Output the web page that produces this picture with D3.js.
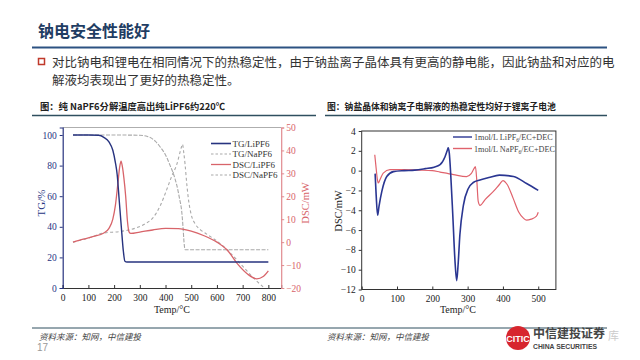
<!DOCTYPE html>
<html><head><meta charset="utf-8">
<script src="https://cdn.jsdelivr.net/npm/d3@7/dist/d3.min.js"></script>
<style>html,body{margin:0;padding:0;background:#fff;}svg{display:block;}</style>
</head><body>
<svg id="c" width="640" height="360"></svg>
<script>
// ---------- DATA ----------
// Left chart: TG / DSC vs temperature
const tgLiTemp = [40,100,140,160,180,195,205,212,220,228,236,242,250,400,800];
const tgLiVal  = [100,100,99.8,98.5,95.5,90,82,74,57,40,24,17.5,17,17,17];
const tgNaTemp = [40,200,300,330,360,380,400,418,432,444,455,463,468,472,476,500,800];
const tgNaVal  = [100,100,99.8,99,96,92,87,80,74,67,58,50,40,30,25,25,25];
const dscLiTemp = [40,80,120,160,180,195,205,215,222,227,232,238,245,252,258,265,300,350,400,450,500,550,600,640,680,720,755,780,800];
const dscLiVal  = [0,1.3,2.5,4,6,10,16,26,33,35.3,33,28,20,9,4.5,3.8,4.4,5.3,6,5.9,4.8,2.8,0,-3.4,-9.5,-14,-16,-15,-12.5];
const dscNaTemp = [40,100,160,220,280,320,350,380,405,425,444,456,462,466,471,476,483,490,500,515,535,560,600,650,700,750,785];
const dscNaVal  = [0,1.8,4,4.6,6,8,10.5,16,23,29,34,39,41.5,42.7,39,34,25,18,12,8,5.5,3.5,0.5,-4.5,-10.5,-16.5,-20];
const leftLegend = ["TG/LiPF6","TG/NaPF6","DSC/LiPF6","DSC/NaPF6"];
const leftXTicks = [0,100,200,300,400,500,600,700,800];
const leftYTicks = [0,20,40,60,80,100];
const rightYTicksL = [-20,-10,0,10,20,30,40,50];

// Right chart: DSC of electrolytes
const liTemp = [38,41,45,49,57,71,90,120,150,180,205,222,236,242,245,248,252,258,264,269,273,278,288,302,316,335,360,390,430,467,500];
const liVal  = [-0.3,-2.5,-4.5,-3.6,-2.1,-0.6,-0.1,0,0.05,0.2,0.35,0.6,1.4,2.0,2.3,1.8,-0.3,-4.5,-9,-11.1,-9.5,-6.5,-3.5,-1.8,-1.2,-0.95,-0.7,-0.45,-0.6,-1.3,-2.0];
const naTemp = [37,41,44,47,52,61,80,120,160,200,222,260,297,310,318,322,326,330,335,350,373,390,400,412,429,445,458,467,480,495,500];
const naVal  = [1.6,0.2,-0.8,-1.25,-0.9,-0.25,0.1,0.1,0.05,0,-0.15,-0.4,-0.6,-0.3,0.2,0.4,-1,-3.1,-3.5,-2.9,-2.1,-1.4,-1.0,-1.4,-2.8,-4.2,-4.8,-5.0,-4.9,-4.6,-4.2];
const rXTicks = [0,100,200,300,400,500];
const rYTicks = [4,2,0,-2,-4,-6,-8,-10,-12];

// ---------- DRAW ----------
const svg = d3.select("#c");
const CJK = "'Noto Sans CJK SC','Noto Sans',sans-serif";
const SERIF = "'Liberation Serif','DejaVu Serif',serif";
const zip = (a,b)=>a.map((t,i)=>[t,b[i]]);

// Slide header
svg.append("text").attr("x",38).attr("y",37).attr("font-family",CJK).attr("font-weight","bold")
  .attr("font-size",16).attr("fill","#1f3d63").text("钠电安全性能好");
svg.append("line").attr("x1",32).attr("x2",607).attr("y1",47.5).attr("y2",47.5)
  .attr("stroke","#2c5282").attr("stroke-width",2);
svg.append("rect").attr("x",38.5).attr("y",58.5).attr("width",6).attr("height",6)
  .attr("fill","none").attr("stroke","#c0392b").attr("stroke-width",1.5);
svg.append("text").attr("x",52).attr("y",67).attr("font-family",CJK).attr("font-size",12.5).attr("fill","#333")
  .text("对比钠电和锂电在相同情况下的热稳定性，由于钠盐离子晶体具有更高的静电能，因此钠盐和对应的电");
svg.append("text").attr("x",52).attr("y",85).attr("font-family",CJK).attr("font-size",12.5).attr("fill","#333")
  .text("解液均表现出了更好的热稳定性。");

// chart titles
svg.append("text").attr("x",40).attr("y",110).attr("font-family",CJK).attr("font-weight","bold")
  .attr("font-size",9.3).attr("fill","#222").text("图：纯 NaPF6分解温度高出纯LiPF6约220℃");
svg.append("line").attr("x1",32).attr("x2",316).attr("y1",115.5).attr("y2",115.5).attr("stroke","#2f4f5f").attr("stroke-width",1.3);
svg.append("text").attr("x",327).attr("y",110).attr("font-family",CJK).attr("font-weight","bold")
  .attr("font-size",8.8).attr("fill","#222").text("图：钠盐晶体和钠离子电解液的热稳定性均好于锂离子电池");
svg.append("line").attr("x1",325).attr("x2",607).attr("y1",115.5).attr("y2",115.5).attr("stroke","#2f4f5f").attr("stroke-width",1.3);

// footer
svg.append("line").attr("x1",32).attr("x2",607).attr("y1",328).attr("y2",328).attr("stroke","#2f4f5f").attr("stroke-width",1);
svg.append("text").attr("x",39).attr("y",340).attr("font-family",CJK).attr("font-size",8.5).attr("font-style","italic")
  .attr("fill","#444").text("资料来源：知网，中信建投");
svg.append("text").attr("x",327).attr("y",340).attr("font-family",CJK).attr("font-size",8.5).attr("font-style","italic")
  .attr("fill","#444").text("资料来源：知网，中信建投");
svg.append("text").attr("x",37).attr("y",351).attr("font-family","'Liberation Sans',sans-serif").attr("font-size",10)
  .attr("fill","#999").text("17");
// logo
svg.append("circle").attr("cx",518).attr("cy",338).attr("r",12).attr("fill","#d7262e");
svg.append("text").attr("x",518).attr("y",342).attr("text-anchor","middle").attr("font-family","'Liberation Sans',sans-serif")
  .attr("font-weight","bold").attr("font-size",9).attr("fill","#fff").text("CITIC");
svg.append("text").attr("x",533).attr("y",338).attr("font-family",CJK).attr("font-weight","bold").attr("font-size",12)
  .attr("fill","#444").text("中信建投证券");
svg.append("text").attr("x",533).attr("y",349).attr("font-family","'Liberation Sans',sans-serif").attr("font-weight","bold")
  .attr("font-size",6.8).attr("fill","#444").text("CHINA SECURITIES");
svg.append("text").attr("x",608).attr("y",340).attr("font-family",CJK).attr("font-size",11).attr("fill","#ccc").text("库");

// ---------- LEFT CHART ----------
const navy = "#27337f", red = "#d8646a", redAxis = "#e08a8f", gray = "#a9a9a9";
const x1 = d3.scaleLinear().domain([0,850]).range([62.7,281.2]);
const yL = d3.scaleLinear().domain([0,104.9]).range([288,127.5]);
const yR = d3.scaleLinear().domain([-20,50]).range([288,127.5]);
const g1 = svg.append("g");

g1.append("line").attr("x1",62.7).attr("x2",281.2).attr("y1",127.5).attr("y2",127.5).attr("stroke","#999").attr("stroke-width",0.8);

const lineL = d3.line().x(d=>x1(d[0])).y(d=>yL(d[1])).curve(d3.curveMonotoneX);
const lineR = d3.line().x(d=>x1(d[0])).y(d=>yR(d[1])).curve(d3.curveMonotoneX);

g1.append("path").attr("d",lineL(zip(tgNaTemp,tgNaVal))).attr("fill","none").attr("stroke",gray).attr("stroke-width",1.1).attr("stroke-dasharray","4,1.5");
g1.append("path").attr("d",lineR(zip(dscNaTemp,dscNaVal))).attr("fill","none").attr("stroke",gray).attr("stroke-width",1.1).attr("stroke-dasharray","3,2.5");
g1.append("path").attr("d",lineR(zip(dscLiTemp,dscLiVal))).attr("fill","none").attr("stroke",red).attr("stroke-width",1.3);
g1.append("path").attr("d",lineL(zip(tgLiTemp,tgLiVal))).attr("fill","none").attr("stroke",navy).attr("stroke-width",1.4);

const axB = g1.append("g").attr("transform","translate(0,288)")
  .call(d3.axisBottom(x1).tickValues(leftXTicks).tickSize(-3).tickPadding(6));
axB.select(".domain").attr("stroke","#333");
axB.selectAll("line").attr("stroke","#333");
axB.selectAll("text").attr("font-family",SERIF).attr("font-size",9.5).attr("fill","#222");

const axL = g1.append("g").attr("transform","translate(62.7,0)")
  .call(d3.axisLeft(yL).tickValues(leftYTicks).tickSize(3).tickPadding(3));
axL.select(".domain").attr("stroke",navy).attr("stroke-width",1.2);
axL.selectAll("line").attr("stroke",navy);
axL.selectAll("text").attr("font-family",SERIF).attr("font-size",9.5).attr("fill",navy);

const axR = g1.append("g").attr("transform","translate(281.2,0)")
  .call(d3.axisRight(yR).tickValues(rightYTicksL).tickSize(3).tickPadding(2));
axR.select(".domain").attr("stroke",redAxis).attr("stroke-width",1.2);
axR.selectAll("line").attr("stroke",redAxis);
axR.selectAll("text").attr("font-family",SERIF).attr("font-size",9.5).attr("fill",red);

g1.append("text").attr("transform","translate(45,203) rotate(-90)").attr("text-anchor","middle")
  .attr("font-family",SERIF).attr("font-size",11).attr("fill",navy).text("TG/%");
g1.append("text").attr("transform","translate(309,203) rotate(-90)").attr("text-anchor","middle")
  .attr("font-family",SERIF).attr("font-size",10.5).attr("fill",red).text("DSC/mW");
g1.append("text").attr("x",172).attr("y",313).attr("text-anchor","middle")
  .attr("font-family",SERIF).attr("font-size",10).attr("fill","#222").text("Temp/°C");

const legStyles = [
  {c:navy,d:null,w:1.6},{c:gray,d:"2.5,2",w:1.1},{c:red,d:null,w:1.3},{c:gray,d:"2.5,2",w:1.1}];
leftLegend.forEach((t,i)=>{
  const y = 143.5 + i*10.5;
  g1.append("line").attr("x1",211).attr("x2",231).attr("y1",y).attr("y2",y)
    .attr("stroke",legStyles[i].c).attr("stroke-width",legStyles[i].w).attr("stroke-dasharray",legStyles[i].d);
  g1.append("text").attr("x",232.5).attr("y",y+3).attr("font-family",SERIF).attr("font-size",9)
    .attr("fill","#333").text(t);
});

// ---------- RIGHT CHART ----------
const blue2 = "#2a3692", red2 = "#e0626c";
const x2 = d3.scaleLinear().domain([0,550]).range([361.7,555.9]);
const y2 = d3.scaleLinear().domain([-12,4]).range([289.5,131]);
const g2 = svg.append("g");
g2.append("rect").attr("x",361.7).attr("y",131).attr("width",555.9-361.7).attr("height",289.5-131)
  .attr("fill","none").attr("stroke","#333").attr("stroke-width",1);
const line2 = d3.line().x(d=>x2(d[0])).y(d=>y2(d[1])).curve(d3.curveMonotoneX);
g2.append("path").attr("d",line2(zip(naTemp,naVal))).attr("fill","none").attr("stroke",red2).attr("stroke-width",1.2);
g2.append("path").attr("d",line2(zip(liTemp,liVal))).attr("fill","none").attr("stroke",blue2).attr("stroke-width",1.6);

const bx2 = g2.append("g").attr("transform","translate(0,289.5)")
  .call(d3.axisBottom(x2).tickValues(rXTicks).tickSize(-3).tickPadding(6));
bx2.select(".domain").remove();
bx2.selectAll("line").attr("stroke","#333");
bx2.selectAll("text").attr("font-family",SERIF).attr("font-size",9.5).attr("fill","#222");
const ly2 = g2.append("g").attr("transform","translate(361.7,0)")
  .call(d3.axisLeft(y2).tickValues(rYTicks).tickSize(3).tickPadding(3));
ly2.select(".domain").remove();
ly2.selectAll("line").attr("stroke","#333");
ly2.selectAll("text").attr("font-family",SERIF).attr("font-size",9.5).attr("fill","#222");

g2.append("text").attr("transform","translate(342,211) rotate(-90)").attr("text-anchor","middle")
  .attr("font-family",SERIF).attr("font-size",10.5).attr("fill","#222").text("DSC/mW");
g2.append("text").attr("x",458).attr("y",313).attr("text-anchor","middle")
  .attr("font-family",SERIF).attr("font-size",10).attr("fill","#222").text("Temp/°C");

const rLeg = [{c:blue2,pre:"1mol/L LiPF",post:"/EC+DEC"},{c:red2,pre:"1mol/L NaPF",post:"/EC+DEC"}];
rLeg.forEach((l,i)=>{
  const y = 137 + i*11.5;
  g2.append("line").attr("x1",453).attr("x2",472).attr("y1",y).attr("y2",y).attr("stroke",l.c).attr("stroke-width",1.4);
  const t = g2.append("text").attr("x",474).attr("y",y+3).attr("font-family",SERIF).attr("font-size",8.2).attr("fill","#444");
  t.append("tspan").text(l.pre);
  t.append("tspan").attr("font-size",5.5).attr("dy",2).text("6");
  t.append("tspan").attr("dy",-2).text(l.post);
});
</script>
</body></html>
